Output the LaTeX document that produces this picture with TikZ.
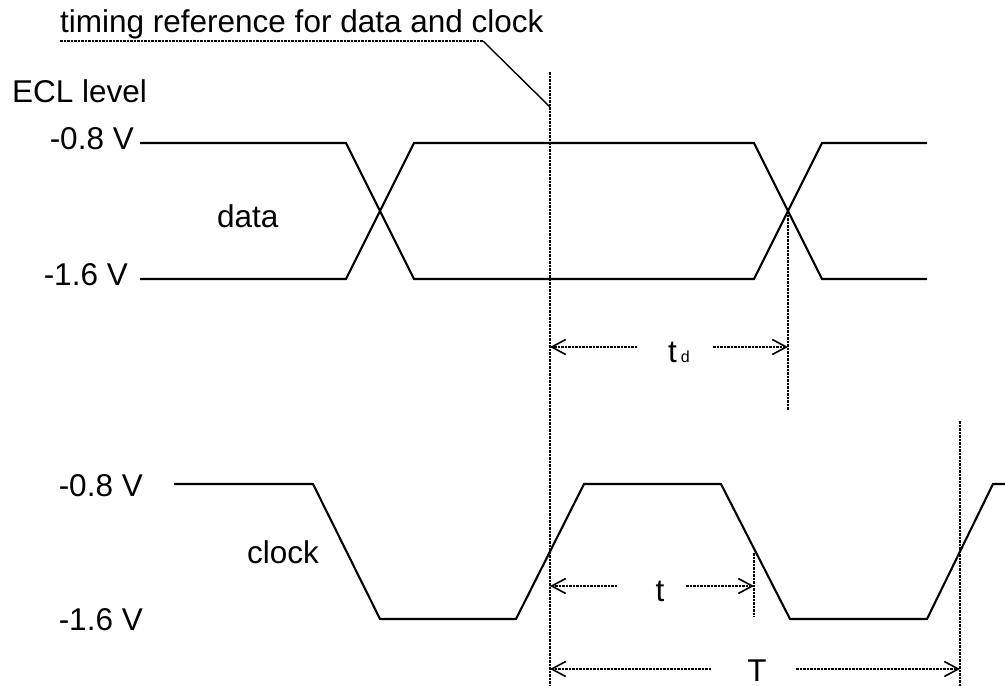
\documentclass[tikz,border=0pt]{standalone}
\usepackage{fontspec}
\setmainfont{Liberation Sans}
\usetikzlibrary{arrows.meta}
\begin{document}
\begin{tikzpicture}[x=1pt,y=-1pt,
  sig/.style={line width=2.1pt, line join=miter},
  refline/.style={line width=1.6pt, dash pattern=on 2.5pt off 1pt},
  lbl/.style={font=\fontsize{31.5}{37}\selectfont, inner sep=0pt},
  dimarrow/.style={refline, -{Straight Barb[length=14pt,width=15pt,line width=1.6pt]}}]
\useasboundingbox (0,0) rectangle (1005,686);

% labels
\node[lbl, anchor=base west] (title) at (60,32) {timing reference for data and clock};
\node[lbl, anchor=base west] (ecl) at (12,102) {ECL level};
\node[lbl, anchor=base east] (dhi) at (134,149) {-0.8 V};
\node[lbl, anchor=base east] (dlo) at (128,285) {-1.6 V};
\node[lbl, anchor=base west] (data) at (217,227) {data};
\node[lbl, anchor=base east] (chi) at (143,496) {-0.8 V};
\node[lbl, anchor=base west] (clock) at (247,563) {clock};
\node[lbl, anchor=base east] (clo) at (143,630) {-1.6 V};

% data waveform
\draw[sig] (140,143) -- (346,143) -- (414,279) -- (754,279) -- (822,143) -- (927,143);
\draw[sig] (140,279) -- (346,279) -- (414,143) -- (754,143) -- (822,279) -- (927,279);

% clock waveform
\draw[sig] (174,484) -- (313,484) -- (380,619) -- (516,619) -- (584,484) -- (721,484)
  -- (790,619) -- (927,619) -- (993,484) -- (1005,484);

% reference lines
\coordinate (ulstart) at (60,41);
\coordinate (ulend) at (483,41);
\coordinate (reftop) at (550,72);
\coordinate (refpt) at (550,107);
\coordinate (refbot) at (550,686);
\draw[refline] (ulstart) -- (ulend);
\draw[line width=1.4pt] (ulend) -- (refpt);
\draw[refline] (reftop) -- (refbot);

\coordinate (xd) at (788,211);
\coordinate (xdb) at (788,410);
\draw[refline] (xd) -- (xdb);

\coordinate (xt) at (754,553);
\coordinate (xtb) at (754,617);
\draw[refline] (xt) -- (xtb);

\coordinate (xT) at (960,421);
\coordinate (xTb) at (960,686);
\draw[refline] (xT) -- (xTb);

% t_d dimension
\node[lbl, anchor=base west] (tdlabel) at (668,362) {t\hspace{4pt}{\fontsize{16}{18}\selectfont d}};
\coordinate (tdL) at (550,347);
\coordinate (tdLs) at (637,347);
\coordinate (tdR) at (788,347);
\coordinate (tdRs) at (713,347);
\draw[dimarrow] (tdLs) -- (tdL);
\draw[dimarrow] (tdRs) -- (tdR);

% t dimension
\node[lbl, anchor=base] (tlabel) at (660,601) {t};
\coordinate (tL) at (550,586);
\coordinate (tLs) at (617,586);
\coordinate (tR) at (754,586);
\coordinate (tRs) at (686,586);
\draw[dimarrow] (tLs) -- (tL);
\draw[dimarrow] (tRs) -- (tR);

% T dimension
\node[lbl, anchor=base] (Tlabel) at (757,681) {T};
\coordinate (TL) at (550,669);
\coordinate (TLs) at (711,669);
\coordinate (TR) at (960,669);
\coordinate (TRs) at (796,669);
\draw[dimarrow] (TLs) -- (TL);
\draw[dimarrow] (TRs) -- (TR);
\end{tikzpicture}
\end{document}
